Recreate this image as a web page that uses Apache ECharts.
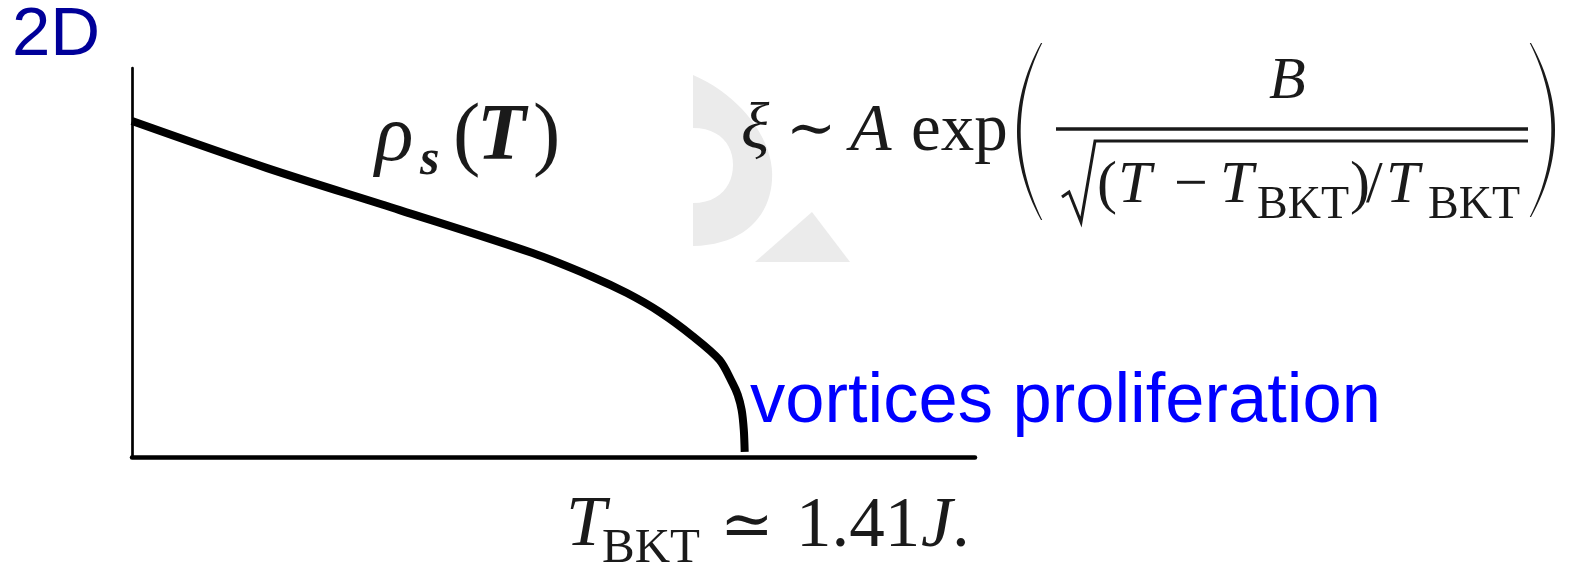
<!DOCTYPE html>
<html>
<head>
<meta charset="utf-8">
<script src="https://cdn.jsdelivr.net/npm/echarts@6/dist/echarts.min.js"></script>
<style>
  html, body { margin: 0; padding: 0; background: #fff; }
  #chart { width: 1574px; height: 570px; }
</style>
</head>
<body>
<div id="chart"></div>
<script>
// Superfluid stiffness of the 2D XY model: rho_s(T) falls to zero at T_BKT
const T_BKT = 1.41;
const temperatures = [0, 0.311, 0.616, 0.922, 1.060, 1.139, 1.214, 1.290, 1.352, 1.382, 1.394, 1.403, 1.408, 1.41];
const stiffness    = [1.0, 0.860, 0.735, 0.607, 0.536, 0.488, 0.432, 0.360, 0.289, 0.220, 0.185, 0.140, 0.080, 0.015];
const xRange = [0, 1.94];
const yRange = [0, 1.158];

const curve = temperatures.map((t, i) => [t, stiffness[i]]);

const INK = '#1a1a1a';
const SERIF = '"Liberation Serif", "DejaVu Serif", serif';
const SANS = '"Liberation Sans", Arial, sans-serif';

// place a text piece by its left edge and baseline
function txt(str, left, base, size, o) {
  o = o || {};
  return {
    type: 'text', silent: true, z: 10,
    x: left, y: base - 0.34 * size,
    style: {
      text: str,
      fill: o.color || INK,
      fontSize: size,
      fontFamily: o.family || SERIF,
      fontStyle: o.italic ? 'italic' : 'normal',
      fontWeight: o.bold ? 'bold' : 'normal',
      align: 'left',
      verticalAlign: 'middle'
    }
  };
}

// sample a cubic Bezier into polygon points
function cubic(p0, c1, c2, p3, n) {
  const pts = [];
  for (let i = 0; i <= n; i++) {
    const t = i / n, u = 1 - t;
    pts.push([
      u*u*u*p0[0] + 3*u*u*t*c1[0] + 3*u*t*t*c2[0] + t*t*t*p3[0],
      u*u*u*p0[1] + 3*u*u*t*c1[1] + 3*u*t*t*c2[1] + t*t*t*p3[1]
    ]);
  }
  return pts;
}

// tall bracket: outer and inner curves joined into one filled crescent
function bracket(xTop, yTop, yBot, bulge, thick) {
  const h = yBot - yTop;
  const outer = cubic([xTop, yTop], [xTop + bulge, yTop + h * 0.33], [xTop + bulge, yTop + h * 0.67], [xTop, yBot], 30);
  const sgn = bulge < 0 ? 1 : -1;
  const inner = cubic([xTop + sgn * 1.2, yBot], [xTop + bulge + sgn * thick, yTop + h * 0.67], [xTop + bulge + sgn * thick, yTop + h * 0.33], [xTop + sgn * 1.2, yTop], 30);
  return { type: 'polygon', silent: true, z: 10, shape: { points: outer.concat(inner) }, style: { fill: INK } };
}

const emblemArc = [[693, 75]]
  .concat(cubic([693, 75], [740, 95], [775, 140], [772, 180], 20))
  .concat(cubic([772, 180], [770, 215], [745, 245], [693, 246], 20))
  .concat([[693, 203]])
  .concat(cubic([693, 203], [720, 203], [733, 185], [733, 165], 12))
  .concat(cubic([733, 165], [733, 145], [720, 128], [693, 128], 12));

const graphics = [
  // faint backdrop emblem
  { type: 'polygon', silent: true, z: 0, shape: { points: emblemArc }, style: { fill: '#ebebeb' } },
  { type: 'polygon', silent: true, z: 0,
    shape: { points: [[755, 262], [812, 212], [850, 262]] },
    style: { fill: '#ebebeb' } },

  // panel title
  txt('2D', 12, 59.5, 69, { family: SANS, color: '#000099' }),

  // curve label rho_s(T)
  txt('\u03C1', 375, 166, 80, { italic: true }),
  txt('s', 420, 178, 50, { italic: true, bold: true }),
  txt('(', 453, 166, 82),
  txt('T', 477, 166, 80, { italic: true, bold: true }),
  txt(')', 533, 166, 82),

  // correlation length  xi ~ A exp( B / sqrt((T - T_BKT)/T_BKT) )
  txt('\u03BE', 741, 153, 66, { italic: true }),
  txt('\u223C', 786, 153, 60, { family: '"DejaVu Serif", serif' }),
  txt('A', 850, 155, 68, { italic: true }),
  txt('exp', 911, 155, 67),
  bracket(1041, 43, 220, -32, 4.5),
  bracket(1531, 43, 217, 32, 4.5),
  { type: 'line', silent: true, z: 10,
    shape: { x1: 1056, y1: 129, x2: 1528, y2: 129 },
    style: { stroke: INK, lineWidth: 3.5 } },
  txt('B', 1269, 103, 60, { italic: true }),
  { type: 'polyline', silent: true, z: 10,
    shape: { points: [[1062, 197], [1069, 192], [1081, 222], [1095, 141], [1528, 141]] },
    style: { stroke: INK, lineWidth: 3, fill: null } },
  txt('(', 1097, 207, 60),
  txt('T', 1118, 207, 60, { italic: true }),
  txt('\u2212', 1174, 207, 60),
  txt('T', 1220, 207, 60, { italic: true }),
  txt('BKT', 1257, 222, 46),
  txt(')', 1350, 207, 60),
  txt('/', 1366, 207, 60),
  txt('T', 1386, 207, 60, { italic: true }),
  txt('BKT', 1428, 222, 46),

  // transition marker label
  txt('T', 566, 551, 72, { italic: true }),
  txt('BKT', 602, 566, 49),
  txt('\u2243', 720, 551, 64, { family: '"DejaVu Serif", serif' }),
  txt('1.41', 796, 551, 71),
  txt('J', 921, 551, 71, { italic: true }),
  txt('.', 952, 551, 71),

  // annotation at the end of the curve
  txt('vortices proliferation', 750, 427, 70.5, { family: SANS, color: '#0000ff' })
];

const chart = echarts.init(document.getElementById('chart'), null, { renderer: 'canvas' });
chart.setOption({
  animation: false,
  backgroundColor: '#ffffff',
  grid: { left: 132, right: 599, top: 68, bottom: 113, containLabel: false },
  xAxis: {
    type: 'value', min: xRange[0], max: xRange[1],
    axisLine: { show: true, onZero: false, lineStyle: { color: '#000', width: 4.5 } },
    axisTick: { show: false }, axisLabel: { show: false }, splitLine: { show: false }
  },
  yAxis: {
    type: 'value', min: yRange[0], max: yRange[1],
    axisLine: { show: true, onZero: false, lineStyle: { color: '#000', width: 2.7 } },
    axisTick: { show: false }, axisLabel: { show: false }, splitLine: { show: false }
  },
  series: [{
    type: 'line',
    data: curve,
    smooth: 0.3,
    showSymbol: false,
    symbol: 'none',
    lineStyle: { color: '#000', width: 8, cap: 'butt', join: 'round' },
    z: 5
  }],
  graphic: { elements: graphics }
});
</script>
</body>
</html>
